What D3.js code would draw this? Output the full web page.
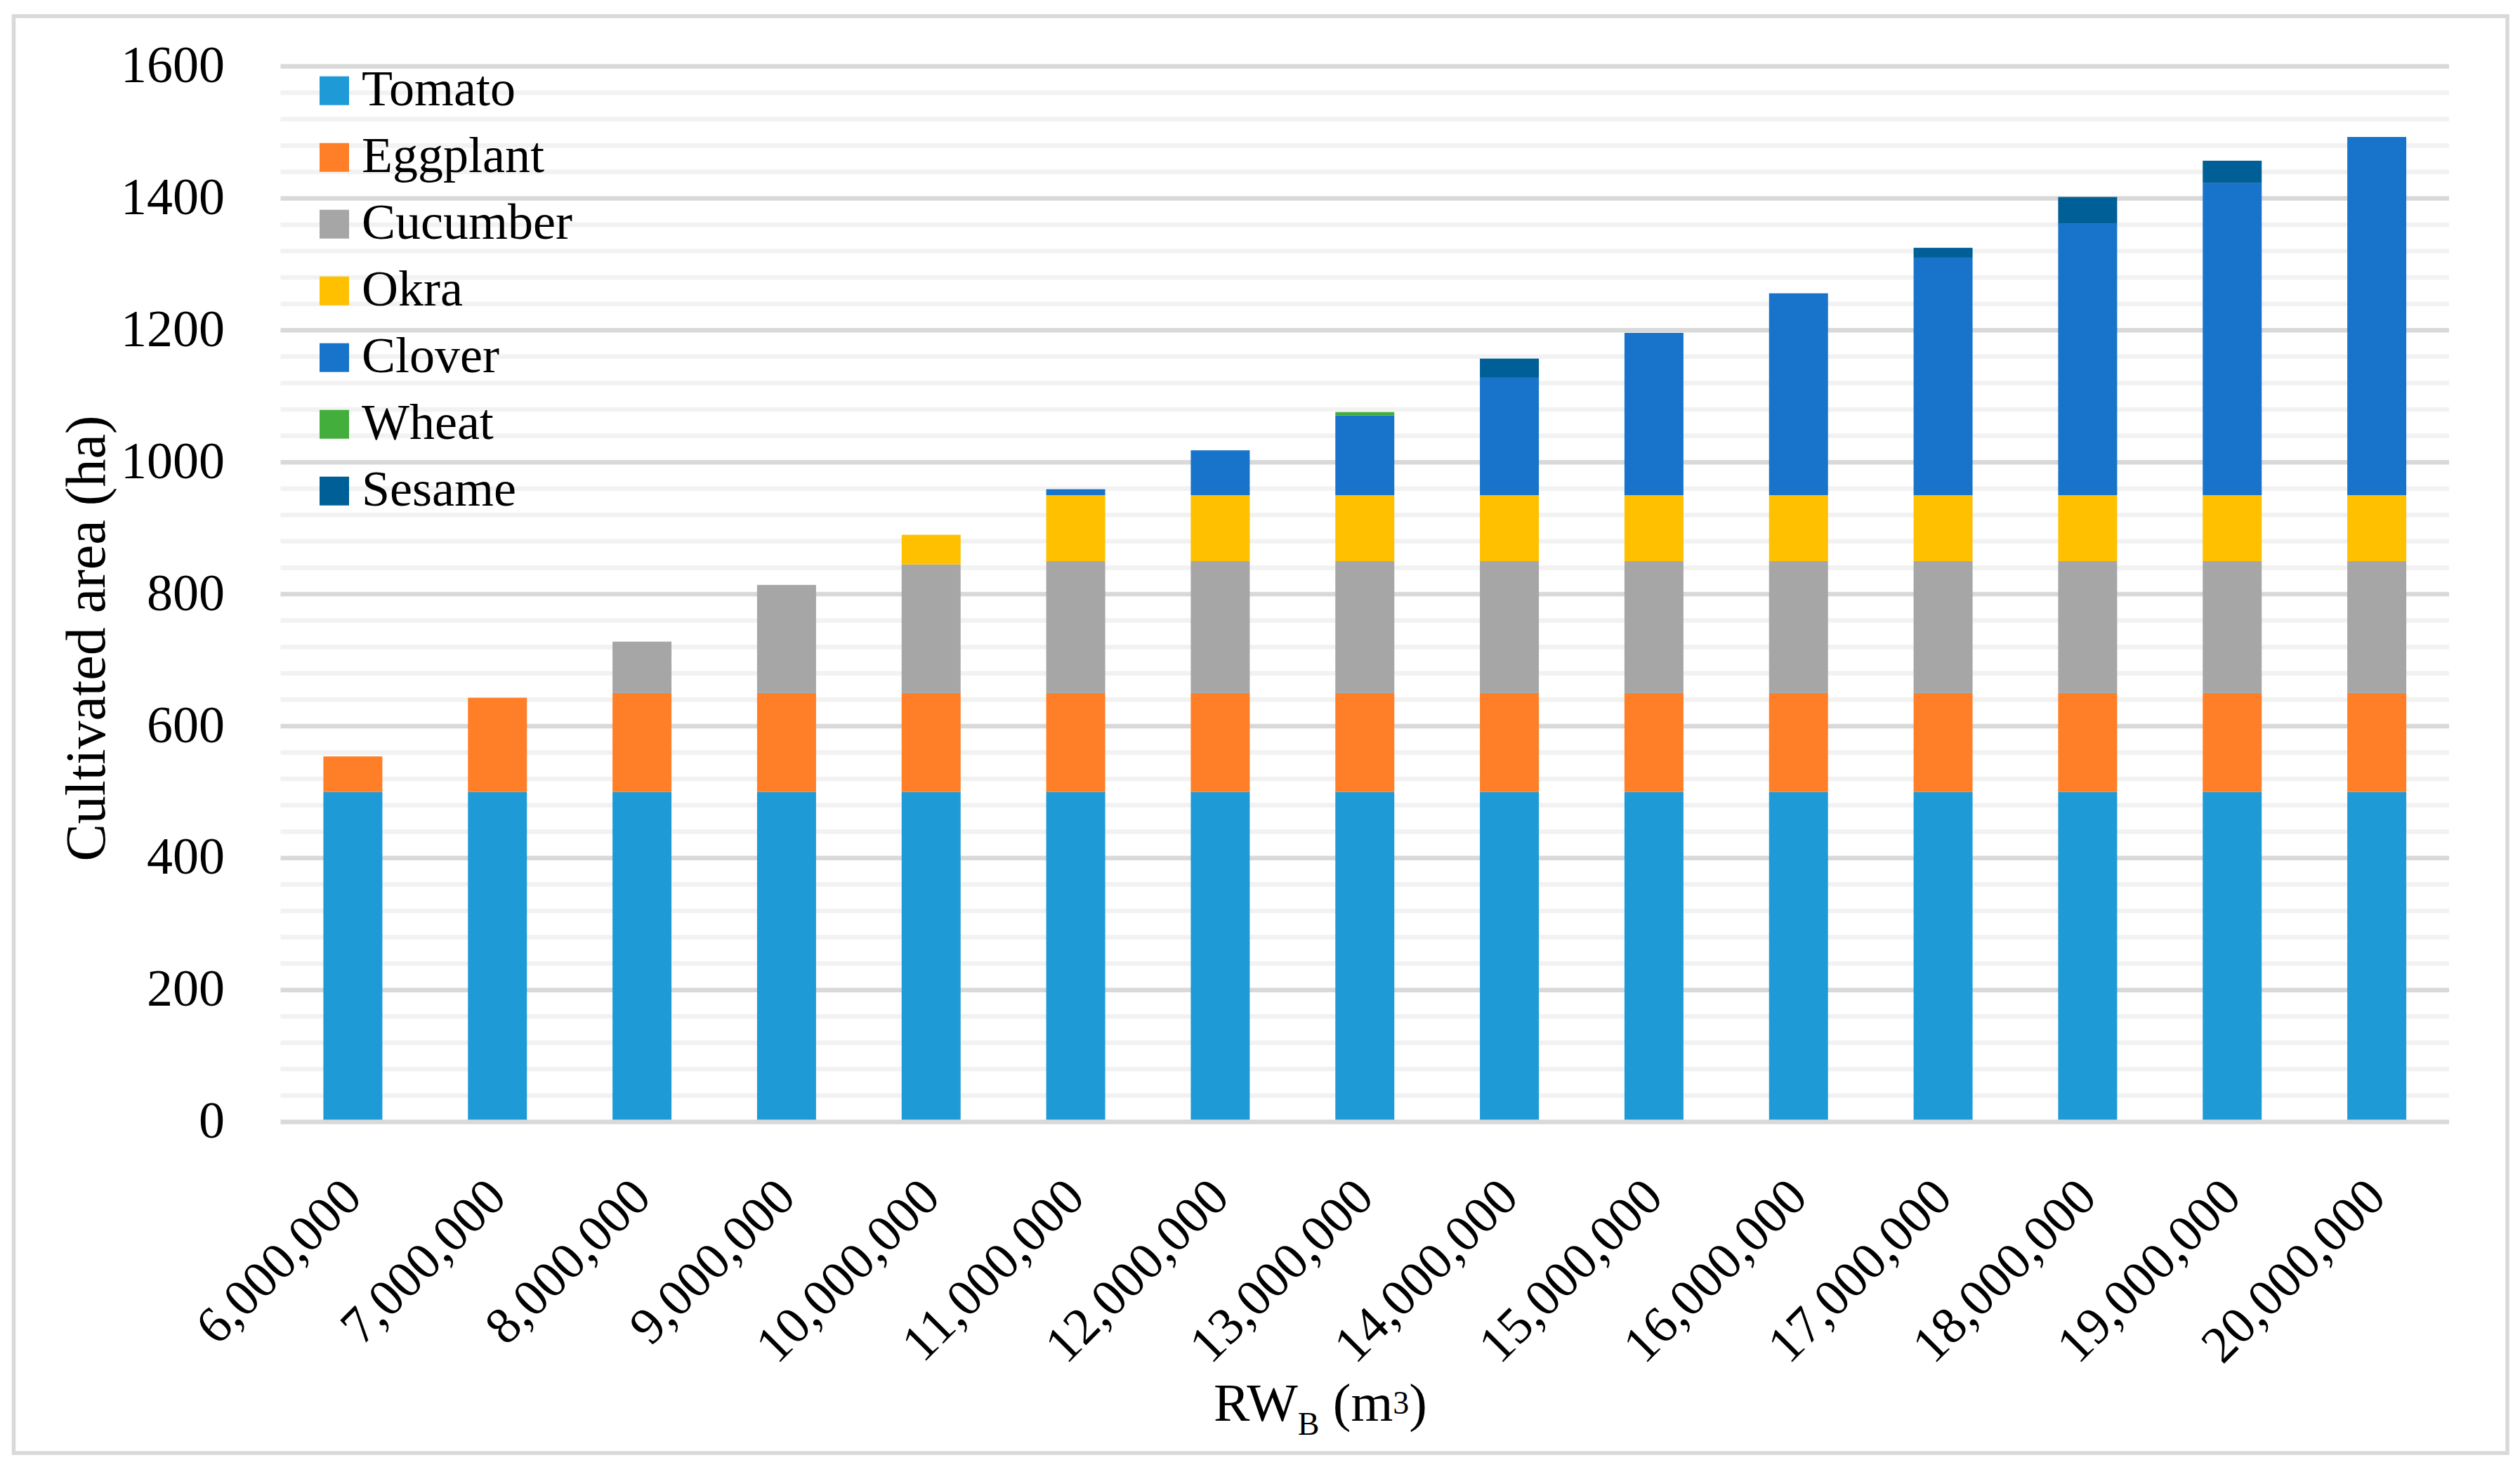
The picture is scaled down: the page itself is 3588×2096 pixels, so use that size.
<!DOCTYPE html>
<html>
<head>
<meta charset="utf-8">
<script src="https://cdn.jsdelivr.net/npm/d3@7"></script>
<style>
  html, body { margin: 0; padding: 0; background: #ffffff; }
  svg { display: block; }
  text { font-family: "Palatino Linotype", "Book Antiqua", Palatino, "Liberation Serif", serif; fill: #000; }
</style>
</head>
<body>
<svg id="chart" width="3588" height="2096"></svg>
<script>
// ---- data ----
const categories = ["6,000,000","7,000,000","8,000,000","9,000,000","10,000,000","11,000,000","12,000,000",
  "13,000,000","14,000,000","15,000,000","16,000,000","17,000,000","18,000,000","19,000,000","20,000,000"];
const seriesNames = ["Tomato","Eggplant","Cucumber","Okra","Clover","Wheat","Sesame"];
const seriesColors = ["#1e9bd7","#fe7f27","#a6a6a6","#ffc000","#1874cb","#43ae3c","#005f96"];
const tomato   = [500,500,500,500,500,500,500,500,500,500,500,500,500,500,500];
const eggplant = [54,143,150,150,150,150,150,150,150,150,150,150,150,150,150];
const cucumber = [0,0,78,164,195,200,200,200,200,200,200,200,200,200,200];
const okra     = [0,0,0,0,45,100,100,100,100,100,100,100,100,100,100];
const clover   = [0,0,0,0,0,9,68,121,178,246,306,360,412,473,543];
const wheat    = [0,0,0,0,0,0,0,5,0,0,0,0,0,0,0];
const sesame   = [0,0,0,0,0,0,0,0,29,0,0,15,40,34,0];
const yTicks   = [0,200,400,600,800,1000,1200,1400,1600];
const yMinorStep = 40;
const yTitle = "Cultivated area (ha)";

// ---- build table ----
const seriesValues = [tomato, eggplant, cucumber, okra, clover, wheat, sesame];
const table = categories.map((c, i) => {
  const row = { cat: c };
  seriesNames.forEach((s, k) => row[s] = seriesValues[k][i]);
  return row;
});

const svg = d3.select("#chart");
const W = 3588, H = 2096;
svg.append("rect").attr("x",0).attr("y",0).attr("width",W).attr("height",H).attr("fill","#fff");
// outer border
svg.append("rect").attr("x",19.5).attr("y",23).attr("width",3550.5).attr("height",2046)
  .attr("fill","none").attr("stroke","#d9d9d9").attr("stroke-width",5.5);

const plotLeft = 399.5, plotRight = 3487, plotTop = 94.5, plotBottom = 1597.5;

const x = d3.scaleBand().domain(categories).range([plotLeft, plotRight])
  .paddingInner(0.592).paddingOuter(0.296);
const y = d3.scaleLinear().domain([0, 1600]).range([plotBottom, plotTop]);

// minor gridlines
const minorVals = d3.range(0, 1600 + 1, yMinorStep).filter(v => yTicks.indexOf(v) < 0);
svg.append("g").selectAll("line").data(minorVals).join("line")
  .attr("x1", plotLeft).attr("x2", plotRight)
  .attr("y1", d => y(d)).attr("y2", d => y(d))
  .attr("stroke", "#f2f2f2").attr("stroke-width", 6.5);
// major gridlines
svg.append("g").selectAll("line").data(yTicks.filter(v => v > 0)).join("line")
  .attr("x1", plotLeft).attr("x2", plotRight)
  .attr("y1", d => y(d)).attr("y2", d => y(d))
  .attr("stroke", "#d9d9d9").attr("stroke-width", 6.5);

// bars
const stack = d3.stack().keys(seriesNames);
const stacked = stack(table);
svg.append("g").selectAll("g").data(stacked).join("g")
  .attr("fill", (d, k) => seriesColors[k])
  .selectAll("rect").data(d => d.filter(p => p[1] - p[0] > 0)).join("rect")
  .attr("x", p => x(p.data.cat))
  .attr("width", x.bandwidth())
  .attr("y", p => y(p[1]))
  .attr("height", p => y(p[0]) - y(p[1]));

// x axis line
svg.append("line").attr("x1", plotLeft).attr("x2", plotRight)
  .attr("y1", y(0)).attr("y2", y(0)).attr("stroke", "#d9d9d9").attr("stroke-width", 6.5);

// y axis labels
const yAxis = svg.append("g").attr("transform", `translate(${plotLeft},0)`)
  .call(d3.axisLeft(y).tickValues(yTicks).tickSize(0).tickPadding(79.5).tickFormat(d3.format("d")));
yAxis.select(".domain").remove();
yAxis.selectAll("text").attr("font-size", 74).attr("dy", "0.30em")
  .style("font-family", '"Palatino Linotype","Book Antiqua",Palatino,"Liberation Serif",serif').attr("fill", "#000");

// x axis labels
const xAxis = svg.append("g").attr("transform", `translate(0,${y(0)})`)
  .call(d3.axisBottom(x).tickSize(0));
xAxis.select(".domain").remove();
xAxis.selectAll("text")
  .attr("font-size", 74).attr("x", 0).attr("y", 0).attr("dy", null)
  .attr("text-anchor", "end")
  .attr("transform", "translate(16,111) rotate(-45)")
  .style("font-family", '"Palatino Linotype","Book Antiqua",Palatino,"Liberation Serif",serif').attr("fill", "#000");

// y title
svg.append("text")
  .attr("transform", "translate(149,909) rotate(-90)")
  .attr("text-anchor", "middle").attr("font-size", 80)
  .text(yTitle);

// x title
const xt = svg.append("text").attr("x", 1880).attr("y", 2023)
  .attr("text-anchor", "middle").attr("font-size", 77);
xt.append("tspan").text("RW");
xt.append("tspan").attr("font-size", 46).attr("dy", 20).text("B");
xt.append("tspan").attr("dy", -20).text(" (m");
xt.append("tspan").attr("font-size", 46).attr("dy", -10).text("3");
xt.append("tspan").attr("dy", 10).text(")");

// legend
const legend = svg.append("g");
const lg = legend.selectAll("g").data(seriesNames).join("g")
  .attr("transform", (d, i) => `translate(455,${108.7 + i * 95})`);
lg.append("rect").attr("width", 42).attr("height", 41).attr("fill", (d, i) => seriesColors[i]);
lg.append("text").attr("x", 60).attr("y", 41).attr("font-size", 72).text(d => d);
</script>
</body>
</html>
